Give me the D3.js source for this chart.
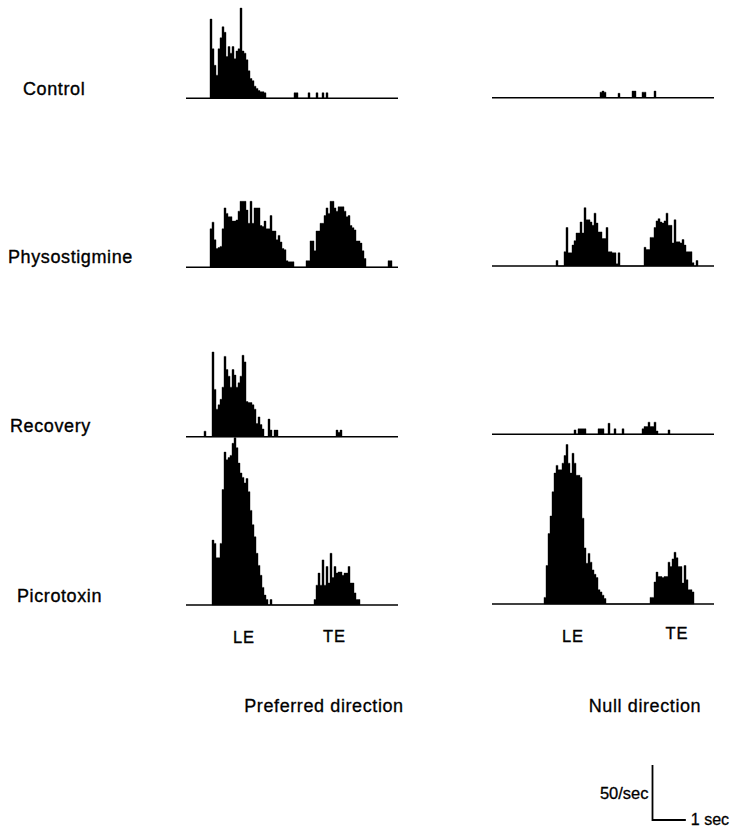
<!DOCTYPE html>
<html>
<head>
<meta charset="utf-8">
<script src="https://cdn.jsdelivr.net/npm/d3@7/dist/d3.min.js"></script>
<style>
  html, body { margin: 0; padding: 0; background: #fff; }
  svg { display: block; }
  text { font-family: "Liberation Sans", Arial, Helvetica, sans-serif; fill: #000; }
</style>
</head>
<body>
<svg id="chart" width="737" height="833"></svg>
<script>
// Conditions (rows) and stimulus directions (columns)
const conditions = ["Control", "Physostigmine", "Recovery", "Picrotoxin"];
const directions = ["Preferred direction", "Null direction"];
const edgeLabels = ["LE", "TE"];

// Bin width of the peri-stimulus time histograms, seconds
const binSec = 0.06;

// Firing rate per bin (spikes/sec), beginning at the listed first bin
const firstBinPreferred = [12, 12, 9, 13];
const firstBinNull = [54, 32, 41, 26];

const controlPreferred = [72, 45, 30, 21, 45, 55, 65, 60, 38, 47, 41, 47, 36, 43, 45, 82, 43, 41, 35, 25, 18, 16, 11, 9, 7, 6, 6, 5,
  0, 0, 0, 0, 0, 0, 0, 0, 0, 0, 0, 0, 0, 0,
  5, 5, 0, 0, 0, 0, 0, 5, 0, 0, 0, 5, 0, 0, 5, 0, 5];
const controlNull = [5, 6, 5, 0, 0, 0, 0, 0, 0, 4, 0, 0, 0, 0, 0, 0, 6, 6, 0, 0, 0, 5, 5, 0, 0, 0, 0, 6];

const physostigminePreferred = [35, 41, 25, 17, 18, 19, 35, 54, 49, 46, 46, 42, 42, 43, 51, 60, 60, 60, 52, 40, 60, 40, 54, 54, 54, 38, 37, 42, 35, 35, 47, 33, 33, 25, 29, 23, 17, 16, 6, 5, 5, 5,
  0, 0, 0, 0, 0, 0,
  6, 6, 24, 24, 15, 33, 33, 40, 40, 47, 54, 49, 60, 60, 54, 51, 55, 55, 55, 51, 46, 47, 38, 36, 34, 24, 24, 22, 15, 8,
  0, 0, 0, 0, 0, 0, 0, 0, 0, 0, 0,
  6, 6];
const physostigmineNull = [5, 0, 0, 0, 13, 35, 12, 12, 19, 23, 30, 30, 40, 30, 53, 42, 42, 40, 37, 48, 39, 31, 31, 25, 25, 35, 13, 13, 12, 12, 2, 12,
  0, 0, 0, 0, 0, 0, 0, 0, 0, 0, 0, 0,
  17, 15, 15, 26, 26, 35, 41, 43, 40, 39, 41, 48, 37, 37, 21, 42, 22, 22, 21, 24, 19, 13, 13, 13, 3, 0, 5];

const recoveryPreferred = [5, 0, 0, 0, 77, 43, 25, 29, 34, 45, 73, 61, 55, 45, 61, 56, 45, 49, 55, 74, 68, 32, 31, 31, 29, 25, 12, 18, 11, 7, 0, 0, 16, 6, 0, 6, 6,
  0, 0, 0, 0, 0, 0, 0, 0, 0, 0, 0, 0, 0, 0, 0, 0, 0, 0, 0, 0, 0, 0, 0, 0, 0, 0, 0, 0, 0,
  6, 4, 6];
const recoveryNull = [4, 0, 5, 5, 5, 5, 0, 0, 0, 0, 0, 0, 5, 5, 5, 0, 0, 10, 0, 0, 5, 0, 0, 0, 5,
  0, 0, 0, 0, 0, 0, 0, 0, 0, 5, 7, 7, 11, 7, 7, 11, 3, 0, 0, 0, 0, 0, 4];

const picrotoxinPreferred = [59, 56, 43, 43, 56, 105, 139, 132, 134, 136, 147, 152, 143, 129, 120, 116, 111, 115, 103, 86, 73, 62, 47, 36, 27, 16, 9, 5, 0, 5,
  0, 0, 0, 0, 0, 0, 0, 0, 0, 0, 0, 0, 0, 0, 0, 0, 0, 0, 0, 0, 0,
  5, 18, 29, 18, 41, 18, 35, 20, 47, 25, 35, 29, 30, 30, 27, 29, 29, 35, 20, 20, 11, 5, 5];
const picrotoxinNull = [6, 35, 64, 80, 102, 119, 126, 122, 122, 128, 135, 145, 128, 119, 137, 128, 117, 117, 115, 78, 51, 37, 46, 38, 31, 27, 24, 13, 11, 8, 5,
  0, 0, 0, 0, 0, 0, 0, 0, 0, 0, 0, 0, 0, 0, 0, 0, 0, 0, 0, 0, 0, 0,
  6, 6, 20, 29, 25, 25, 24, 25, 25, 38, 34, 41, 47, 42, 34, 34, 19, 35, 22, 13, 13, 11];

const preferredRates = [controlPreferred, physostigminePreferred, recoveryPreferred, picrotoxinPreferred];
const nullRates = [controlNull, physostigmineNull, recoveryNull, picrotoxinNull];

// Calibration bar values
const rateBarValue = 50;   // spikes/sec
const timeBarValue = 1;    // sec
const rateBarLabel = "50/sec";
const timeBarLabel = "1 sec";

// ---- layout ----
const pxPerSec = 100 / 3;
const pxPerRate = 1.1;
const columns = [
  { x0: 186, sec: 6.36, baselines: [98.3, 267.3, 436.7, 605], firstBins: firstBinPreferred, rates: preferredRates,
    edgeX: [244, 334.5], edgeY: [643, 642], titleX: 324 },
  { x0: 492, sec: 6.66, baselines: [97.7, 266, 434.3, 604], firstBins: firstBinNull, rates: nullRates,
    edgeX: [573, 677], edgeY: [642, 639], titleX: 645 }
];
const rowLabelPos = [[23, 95], [8, 263], [10, 432], [17, 602]];

const svg = d3.select("#chart");

const yRate = d3.scaleLinear().domain([0, 50]).range([0, 50 * pxPerRate]);

columns.forEach((col, ci) => {
  const x = d3.scaleLinear().domain([0, col.sec]).range([col.x0, col.x0 + col.sec * pxPerSec]);

  col.rates.forEach((rates, ri) => {
    const base = col.baselines[ri];
    const first = col.firstBins[ri];
    const pts = rates.map((v, k) => ({ t: (first + k) * binSec, v }));
    pts.push({ t: (first + rates.length) * binSec, v: 0 });

    const area = d3.area()
      .curve(d3.curveStepAfter)
      .x(d => x(d.t))
      .y0(base)
      .y1(d => base - yRate(d.v));

    const g = svg.append("g").attr("class", "psth");
    g.append("path")
      .datum(pts)
      .attr("d", area)
      .attr("fill", "#000")
      .attr("stroke", "#000")
      .attr("stroke-width", 0.4)
      .attr("stroke-linejoin", "miter");

    g.append("line")
      .attr("x1", x(0)).attr("x2", x(col.sec))
      .attr("y1", base).attr("y2", base)
      .attr("stroke", "#000")
      .attr("stroke-width", 1.6);
  });

  // leading / trailing edge markers
  edgeLabels.forEach((lab, i) => {
    svg.append("text")
      .attr("x", col.edgeX[i]).attr("y", col.edgeY[i])
      .attr("text-anchor", "middle")
      .attr("font-size", 16.5)
      .attr("letter-spacing", 1)
      .attr("stroke", "#000").attr("stroke-width", 0.35)
      .text(lab);
  });

  svg.append("text")
    .attr("x", col.titleX).attr("y", 712)
    .attr("text-anchor", "middle")
    .attr("font-size", 18)
    .attr("letter-spacing", 0.6)
    .attr("stroke", "#000").attr("stroke-width", 0.3)
    .text(directions[ci]);
});

// row labels
conditions.forEach((c, i) => {
  svg.append("text")
    .attr("x", rowLabelPos[i][0]).attr("y", rowLabelPos[i][1])
    .attr("font-size", 18)
    .attr("letter-spacing", 0.6)
    .attr("stroke", "#000").attr("stroke-width", 0.35)
    .text(c);
});

// calibration bars
const cx = 652.5, cy = 820;
svg.append("path")
  .attr("d", `M${cx},${cy - yRate(rateBarValue)}V${cy}H${cx + timeBarValue * pxPerSec}`)
  .attr("fill", "none")
  .attr("stroke", "#000")
  .attr("stroke-width", 1.8);
svg.append("text")
  .attr("x", cx - 4).attr("y", 799)
  .attr("text-anchor", "end")
  .attr("font-size", 16.5)
  .attr("stroke", "#000").attr("stroke-width", 0.3)
  .text(rateBarLabel);
svg.append("text")
  .attr("x", cx + timeBarValue * pxPerSec + 5).attr("y", 825)
  .attr("font-size", 16)
  .attr("stroke", "#000").attr("stroke-width", 0.3)
  .text(timeBarLabel);
</script>
</body>
</html>
